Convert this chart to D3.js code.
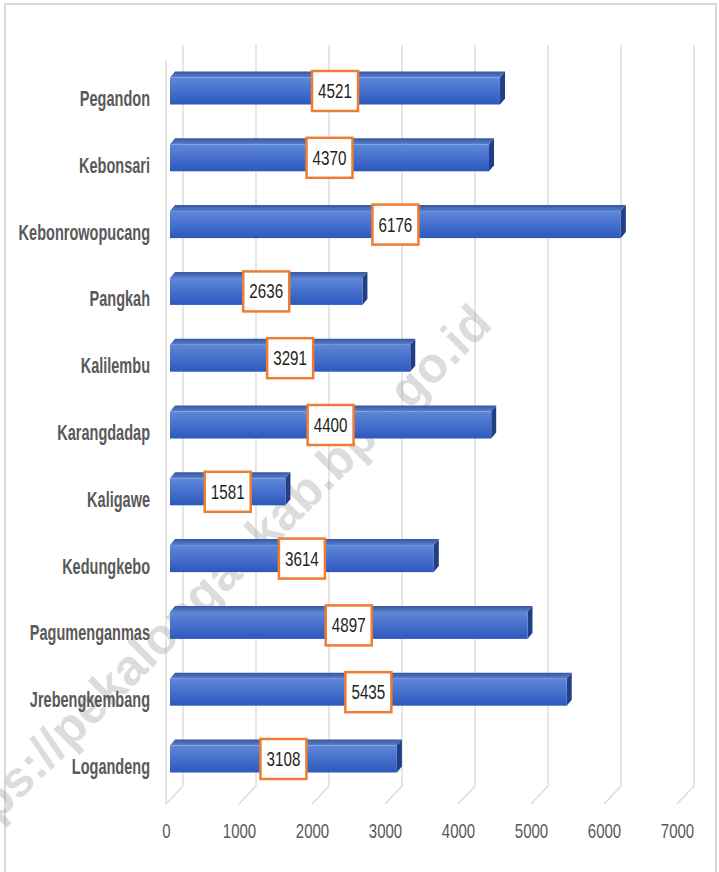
<!DOCTYPE html>
<html>
<head>
<meta charset="utf-8">
<script src="https://cdn.jsdelivr.net/npm/d3@7"></script>
<style>
  html, body { margin: 0; padding: 0; background: #fff; }
  svg { display: block; }
</style>
</head>
<body>
<svg id="chart"></svg>
<script>
// data
var villages = ["Pegandon", "Kebonsari", "Kebonrowopucang", "Pangkah", "Kalilembu", "Karangdadap",
                "Kaligawe", "Kedungkebo", "Pagumenganmas", "Jrebengkembang", "Logandeng"];
var totals = [4521, 4370, 6176, 2636, 3291, 4400, 1581, 3614, 4897, 5435, 3108];
var xTicks = [0, 1000, 2000, 3000, 4000, 5000, 6000, 7000];
var watermark = "https://pekalongankab.bps.go.id";

var W = 719, H = 872;
// no narrow font installed, so squeeze Liberation Sans horizontally
var font = '"Liberation Sans", Arial, sans-serif';

const svg = d3.select("#chart").attr("width", W).attr("height", H);

// depth offsets of the 3d look
var depth = {dx: 17, dy: -18};
var barDepth = {dx: 5, dy: -6};

// front plane scale (tick labels), bars sit a bit behind it
var x = d3.scaleLinear().domain([0, 7000]).range([166, 677]);
var xBar = function(v) { return x(v) + 4; };
var y = d3.scalePoint().domain(villages).range([91, 759]);
var floorY = 804;
var topY = 45;

// frame
svg.append("rect")
    .attr("x", 5).attr("y", 4)
    .attr("width", W - 8).attr("height", H + 10)
    .attr("fill", "none")
    .attr("stroke", "#d9d9d9")
    .attr("stroke-width", 2);

var grid = svg.append("g").attr("class", "grid");

// back gridlines + floor diagonals
xTicks.forEach(function(t) {
  var bx = x(t) + depth.dx;
  grid.append("line")
      .attr("x1", bx).attr("x2", bx)
      .attr("y1", topY).attr("y2", floorY + depth.dy)
      .attr("stroke", "#d9d9d9").attr("stroke-width", 1.3);
  grid.append("line")
      .attr("x1", bx).attr("x2", x(t))
      .attr("y1", floorY + depth.dy).attr("y2", floorY)
      .attr("stroke", "#d9d9d9").attr("stroke-width", 1.3);
});
// left wall edge
grid.append("line")
    .attr("x1", x(0)).attr("x2", x(0))
    .attr("y1", topY + 15).attr("y2", floorY)
    .attr("stroke", "#d9d9d9").attr("stroke-width", 1.3);

// gradients
var defs = svg.append("defs");
var gFront = defs.append("linearGradient").attr("id", "front")
    .attr("x1", 0).attr("y1", 0).attr("x2", 0).attr("y2", 1);
gFront.append("stop").attr("offset", "0%").attr("stop-color", "#5f88d9");
gFront.append("stop").attr("offset", "100%").attr("stop-color", "#2c58bd");
var gTop = defs.append("linearGradient").attr("id", "topface")
    .attr("x1", 0).attr("y1", 0).attr("x2", 0).attr("y2", 1);
gTop.append("stop").attr("offset", "0%").attr("stop-color", "#35589f");
gTop.append("stop").attr("offset", "100%").attr("stop-color", "#5a7fcc");

// watermark (behind bars)
svg.append("text")
    .attr("transform", "translate(494,326) rotate(-45)")
    .attr("text-anchor", "end")
    .style("font-family", font)
    .style("font-weight", "bold")
    .style("font-size", "50px")
    .style("fill", "rgba(150,150,150,0.33)")
    .text(watermark);

var barH = 27;
var bars = svg.append("g").attr("class", "bars");

villages.forEach(function(name, i) {
  var cy = y(name);
  var x0 = xBar(0), x1 = xBar(totals[i]);
  var top = cy - barH / 2, bot = cy + barH / 2;
  var g = bars.append("g");
  // top face
  g.append("path")
      .attr("d", `M${x0},${top} L${x0 + barDepth.dx},${top + barDepth.dy} L${x1 + barDepth.dx},${top + barDepth.dy} L${x1},${top} Z`)
      .attr("fill", "url(#topface)");
  // right side face
  g.append("path")
      .attr("d", `M${x1},${top} L${x1 + barDepth.dx},${top + barDepth.dy} L${x1 + barDepth.dx},${bot + barDepth.dy} L${x1},${bot} Z`)
      .attr("fill", "#203f86");
  // front face
  g.append("rect")
      .attr("x", x0).attr("y", top)
      .attr("width", x1 - x0).attr("height", barH)
      .attr("fill", "url(#front)");

  // data label
  var mx = (x0 + x1) / 2;
  g.append("rect")
      .attr("x", mx - 23).attr("y", cy - 20)
      .attr("width", 46).attr("height", 40)
      .attr("fill", "#fff")
      .attr("stroke", "#ed7d31")
      .attr("stroke-width", 2.5);
  g.append("text")
      .attr("transform", `translate(${mx},${cy + 7}) scale(0.78,1)`)
      .attr("text-anchor", "middle")
      .style("font-family", font)
      .style("font-size", "19.5px")
      .style("fill", "#1f1f1f")
      .text(totals[i]);
});

// category labels
svg.append("g").selectAll("text")
    .data(villages)
    .join("text")
    .attr("transform", function(d) { return `translate(150,${y(d) + 15}) scale(0.66,1)`; })
    .attr("text-anchor", "end")
    .style("font-family", font)
    .style("font-weight", "bold")
    .style("font-size", "22px")
    .style("fill", "#595959")
    .text(function(d) { return d; });

// value axis labels
var axis = svg.append("g")
    .attr("transform", "translate(0,838)")
    .call(d3.axisBottom(x).tickValues(xTicks).tickSize(0).tickFormat(d3.format("d")));
axis.select(".domain").remove();
axis.selectAll("text")
    .attr("y", 0).attr("dy", 0)
    .attr("transform", "scale(0.75,1)")
    .style("font-family", font)
    .style("font-size", "20px")
    .style("fill", "#595959");
</script>
</body>
</html>
